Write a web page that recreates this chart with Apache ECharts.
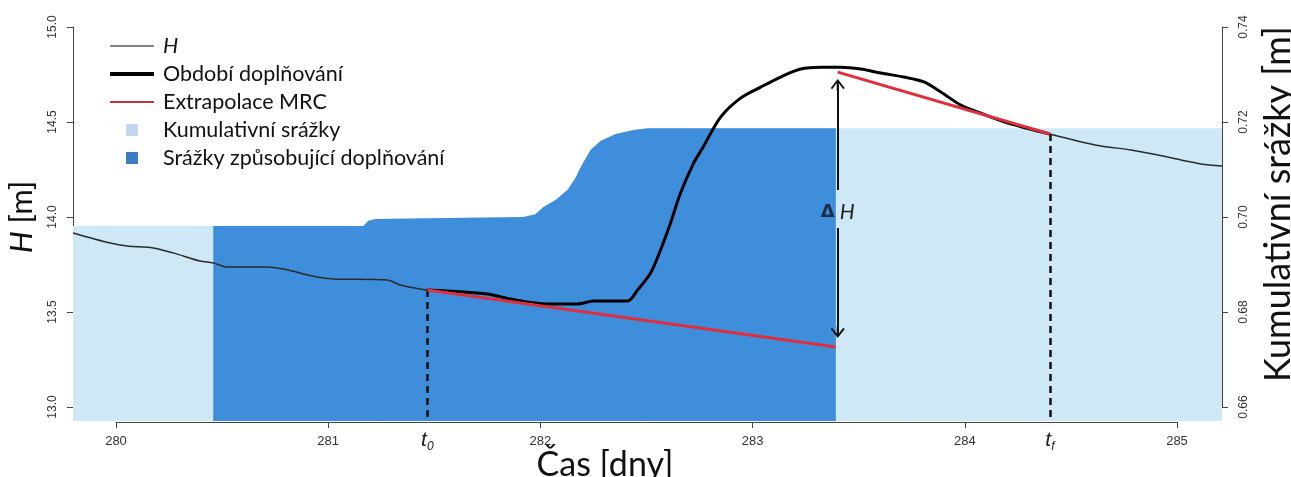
<!DOCTYPE html>
<html>
<head>
<meta charset="utf-8">
<script src="https://cdn.jsdelivr.net/npm/echarts@6/dist/echarts.min.js"></script>
<style>
html, body { margin: 0; padding: 0; background: #fff; }
#chart { width: 1291px; height: 477px; }
</style>
</head>
<body>
<div id="chart"></div>
<script>
// groundwater level H [m] over time [days]
const hTime = [279.797, 279.972, 280.052, 280.175, 280.269, 280.396, 280.458, 280.524, 280.712, 280.788,
  280.948, 281.024, 281.278, 281.340, 281.467, 281.750, 281.858, 282.033, 282.175, 282.250,
  282.410, 282.458, 282.519, 282.566, 282.613, 282.660, 282.722, 282.764, 282.849, 282.943,
  283.038, 283.132, 283.226, 283.321, 283.415, 283.509, 283.604, 283.712, 283.807, 283.887,
  283.981, 284.075, 284.203, 284.401, 284.514, 284.642, 284.783, 284.910, 285.019, 285.113, 285.212];
const hLevel = [13.916, 13.863, 13.847, 13.837, 13.811, 13.768, 13.758, 13.737, 13.737, 13.726,
  13.684, 13.674, 13.668, 13.642, 13.616, 13.595, 13.568, 13.542, 13.542, 13.558,
  13.558, 13.616, 13.705, 13.826, 13.968, 14.126, 14.284, 14.363, 14.526, 14.626,
  14.684, 14.737, 14.779, 14.789, 14.789, 14.779, 14.758, 14.737, 14.711, 14.658,
  14.589, 14.547, 14.495, 14.437, 14.405, 14.374, 14.353, 14.326, 14.300, 14.279, 14.268];

// cumulative precipitation [m]
const rainTime = [279.797, 280.458, 281.165, 281.189, 281.222, 281.920, 281.976, 282.014, 282.071, 282.127,
  282.165, 282.189, 282.236, 282.283, 282.354, 282.439, 282.505, 283.392, 285.212];
const rainCum = [0.6981, 0.6981, 0.6981, 0.6992, 0.6996, 0.7000, 0.7006, 0.7021, 0.7036, 0.7057,
  0.7082, 0.7105, 0.7141, 0.7160, 0.7175, 0.7183, 0.7187, 0.7187, 0.7187];

// recharge period (t0 .. tf) and the rain that causes it
const t0 = 281.467;
const tf = 284.401;
const rainStart = 280.458;
const rainEnd = 283.392;

// MRC extrapolation segments
const mrcLowTime = [281.467, 283.392];
const mrcLowLevel = [13.616, 13.316];
const mrcHighTime = [283.401, 284.401];
const mrcHighLevel = [14.763, 14.437];

// delta H arrow
const deltaTime = 283.401;
const deltaUp = [14.142, 14.695];
const deltaDown = [13.942, 13.395];
const deltaLabelLevel = 14.026;

// axes
const xTicks = [280, 281, 282, 283, 284, 285];
const hTicks = [13.0, 13.5, 14.0, 14.5, 15.0];
const rainTicks = [0.66, 0.68, 0.70, 0.72, 0.74];

const pairs = (xs, ys) => xs.map((x, i) => [x, ys[i]]);
const between = (xs, ys, a, b) => pairs(xs, ys).filter(p => p[0] >= a && p[0] <= b);
const levelAt = t => hLevel[hTime.indexOf(t)];

const LIGHT = '#cfe8f5';
const DARK = '#3f8edb';
const RED = '#df2f3c';
const AXIS = '#444';
const chevron = 'path://M0,0L7,9L5.6,10.2L1,4.3L1,12L-1,12L-1,4.3L-5.6,10.2L-7,9Z';
const square = 'path://M0,0h0.01v0.01h-0.01z M43.99,11.99h0.01v0.01h-0.01z M16,0h12v12h-12z';

const H_MIN = 12.926, H_MAX = 15.074;
const R_MIN = 0.65705, R_MAX = 0.74295;

const myChart = echarts.init(document.getElementById('chart'));

const option = {
  animation: false,
  backgroundColor: '#fff',
  grid: [
    { left: 73, right: 69, top: 13, bottom: 56, outerBoundsMode: 'none', containLabel: false },
    { left: 73, width: 1, top: 27, bottom: 70, outerBoundsMode: 'none', containLabel: false },
    { left: 1222, width: 1, top: 27, bottom: 70, outerBoundsMode: 'none', containLabel: false },
    { left: 116, right: 114, bottom: 55, height: 1, outerBoundsMode: 'none', containLabel: false }
  ],
  legend: {
    orient: 'vertical',
    left: 108,
    top: 35,
    padding: 0,
    itemWidth: 44,
    itemHeight: 12,
    itemGap: 6,
    selectedMode: false,
    textStyle: { fontFamily: 'Lato', fontSize: 21.5, color: '#111', padding: [0, 0, 0, 4] },
    data: [
      { name: 'H', textStyle: { fontStyle: 'italic' }, itemStyle: { opacity: 0 }, lineStyle: { color: '#555', width: 1.5 } },
      { name: 'Období doplňování', itemStyle: { opacity: 0 }, lineStyle: { color: '#000', width: 4 } },
      { name: 'Extrapolace MRC', itemStyle: { opacity: 0 }, lineStyle: { color: '#c8323c', width: 2 } },
      { name: 'Kumulativní srážky', icon: square, itemStyle: { color: '#c0d7ef' } },
      { name: 'Srážky způsobující doplňování', icon: square, itemStyle: { color: '#3b7dc2' } }
    ]
  },
  xAxis: [
    { type: 'value', gridIndex: 0, min: 279.797, max: 285.212, show: false },
    { type: 'value', gridIndex: 1, min: 0, max: 1, show: false },
    { type: 'value', gridIndex: 2, min: 0, max: 1, show: false },
    {
      type: 'value', gridIndex: 3, position: 'bottom',
      min: xTicks[0], max: xTicks[xTicks.length - 1], interval: 1,
      axisLine: { show: true, lineStyle: { color: AXIS, width: 1 } },
      axisTick: { show: true, length: 6, lineStyle: { color: AXIS } },
      axisLabel: { margin: 13, fontSize: 13, fontFamily: 'Liberation Sans', color: '#333' },
      splitLine: { show: false },
      name: 'Čas [dny]',
      nameLocation: 'middle',
      nameGap: 26,
      nameMoveOverlap: false,
      nameTextStyle: { fontFamily: 'Lato', fontSize: 34, color: '#111', padding: [0, 83, 0, 0] }
    }
  ],
  yAxis: [
    { type: 'value', gridIndex: 0, min: H_MIN, max: H_MAX, show: false },
    { type: 'value', gridIndex: 0, position: 'right', min: R_MIN, max: R_MAX, show: false },
    {
      type: 'value', gridIndex: 1, position: 'left',
      min: hTicks[0], max: hTicks[hTicks.length - 1], interval: 0.5,
      axisLine: { show: true, lineStyle: { color: AXIS, width: 1 } },
      axisTick: { show: true, length: 6, lineStyle: { color: AXIS } },
      axisLabel: { rotate: 90, margin: 14, fontSize: 12, fontFamily: 'Liberation Sans', color: '#333',
        formatter: v => v.toFixed(1) },
      splitLine: { show: false },
      name: '{i|H} [m]',
      nameLocation: 'middle',
      nameRotate: 90,
      nameGap: 36,
      nameMoveOverlap: false,
      nameTextStyle: {
        fontFamily: 'Lato', fontSize: 31, color: '#111',
        rich: { i: { fontFamily: 'Lato', fontSize: 31, fontStyle: 'italic', color: '#111' } }
      }
    },
    {
      type: 'value', gridIndex: 2, position: 'right',
      min: rainTicks[0], max: rainTicks[rainTicks.length - 1], interval: 0.02,
      axisLine: { show: true, lineStyle: { color: AXIS, width: 1 } },
      axisTick: { show: true, length: 6, lineStyle: { color: AXIS } },
      axisLabel: { rotate: 90, margin: 15, fontSize: 12, fontFamily: 'Liberation Sans', color: '#333',
        formatter: v => v.toFixed(2) },
      splitLine: { show: false },
      name: 'Kumulativní srážky [m]',
      nameLocation: 'middle',
      nameRotate: 90,
      nameGap: 37,
      nameMoveOverlap: false,
      nameTextStyle: { fontFamily: 'Lato', fontSize: 36, color: '#111', padding: [0, 0, 0, 26] }
    },
    { type: 'value', gridIndex: 3, min: 0, max: 1, show: false }
  ],
  series: [
    {
      name: 'Kumulativní srážky', type: 'line', xAxisIndex: 0, yAxisIndex: 1,
      data: pairs(rainTime, rainCum), symbol: 'none', color: LIGHT,
      lineStyle: { width: 0 }, areaStyle: { color: LIGHT, opacity: 1, origin: 'start' }, z: 1
    },
    {
      name: 'Srážky způsobující doplňování', type: 'line', xAxisIndex: 0, yAxisIndex: 1,
      data: between(rainTime, rainCum, rainStart, rainEnd), symbol: 'none', color: DARK,
      lineStyle: { width: 0 }, areaStyle: { color: DARK, opacity: 1, origin: 'start' }, z: 2
    },
    {
      name: 'H', type: 'line', xAxisIndex: 0, yAxisIndex: 0,
      data: pairs(hTime, hLevel), symbol: 'none', smooth: 0.3,
      color: '#2a2a2a', lineStyle: { color: '#2a2a2a', width: 1.5 }, z: 3
    },
    {
      name: 'Období doplňování', type: 'line', xAxisIndex: 0, yAxisIndex: 0,
      data: between(hTime, hLevel, t0, tf), symbol: 'none', smooth: 0.3,
      color: '#000', lineStyle: { color: '#000', width: 3 }, z: 4
    },
    {
      name: 'Extrapolace MRC', type: 'line', xAxisIndex: 0, yAxisIndex: 0,
      data: pairs(mrcLowTime, mrcLowLevel), symbol: 'none',
      color: RED, lineStyle: { color: RED, width: 3 }, z: 5
    },
    {
      name: 'Extrapolace MRC', type: 'line', xAxisIndex: 0, yAxisIndex: 0,
      data: pairs(mrcHighTime, mrcHighLevel), symbol: 'none',
      color: RED, lineStyle: { color: RED, width: 3 }, z: 5
    },
    {
      name: 'marks', type: 'line', xAxisIndex: 0, yAxisIndex: 0, data: [], z: 6,
      markLine: {
        silent: true,
        symbol: ['none', 'none'],
        lineStyle: { color: '#111', width: 2.5, type: [7, 5] },
        label: {
          show: true, position: 'end', distance: 6,
          rich: {
            t: { fontFamily: 'Liberation Sans', fontSize: 21, fontStyle: 'italic', color: '#222' },
            s: { fontFamily: 'Liberation Sans', fontSize: 12, fontStyle: 'italic', color: '#222', padding: [14, 0, 0, 0] }
          }
        },
        data: [
          [{ coord: [t0, levelAt(t0)], label: { formatter: '{t|t}{s|0}' } }, { coord: [t0, H_MIN] }],
          [{ coord: [tf, levelAt(tf)], label: { formatter: '{t|t}{s|f}' } }, { coord: [tf, H_MIN] }]
        ]
      }
    },
    {
      name: 'delta', type: 'line', xAxisIndex: 0, yAxisIndex: 0, data: [], z: 7,
      markLine: {
        silent: true,
        symbol: ['none', chevron],
        symbolSize: [14, 12],
        lineStyle: { color: '#111', width: 2, type: 'solid' },
        label: { show: false },
        data: [
          [{ coord: [deltaTime, deltaUp[0]] }, { coord: [deltaTime, deltaUp[1]] }],
          [{ coord: [deltaTime, deltaDown[0]] }, { coord: [deltaTime, deltaDown[1]] }]
        ]
      },
      markPoint: {
        silent: true,
        symbol: 'circle', symbolSize: 1,
        itemStyle: { color: 'transparent' },
        label: {
          show: true, position: 'inside',
          formatter: '{d|Δ}{h| H}',
          rich: {
            d: { fontFamily: 'DejaVu Sans', fontSize: 18, fontWeight: 'bold', color: '#1c2b4a' },
            h: { fontFamily: 'Lato', fontSize: 21, fontStyle: 'italic', color: '#222' }
          }
        },
        data: [{ coord: [deltaTime, deltaLabelLevel] }]
      }
    }
  ]
};

myChart.setOption(option);
</script>
</body>
</html>
